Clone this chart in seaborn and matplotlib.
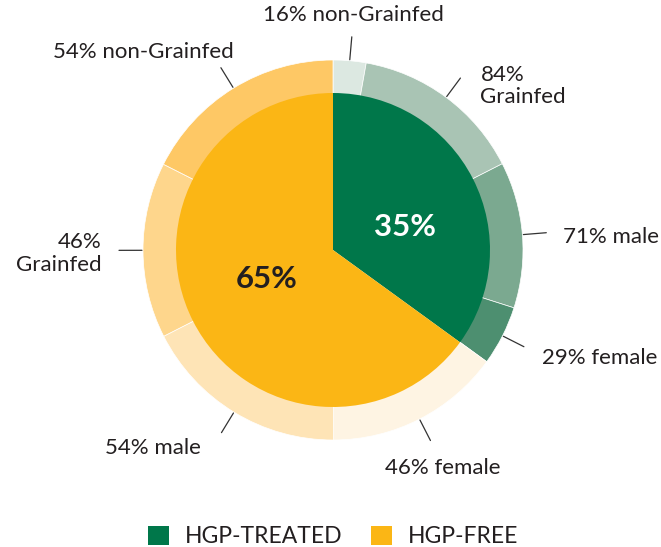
import numpy as np
import seaborn as sns
import matplotlib.pyplot as plt
from matplotlib.patches import Patch

sns.set_theme(style="white")
plt.rcParams['font.family'] = ['Lato', 'DejaVu Sans']

# data
groups = ["HGP-TREATED", "HGP-FREE"]
group_share = [35, 65]
treated_feed = [16, 84]   # non-Grainfed, Grainfed
treated_sex = [71, 29]    # male, female
free_sex = [46, 54]       # female, male
free_feed = [46, 54]      # Grainfed, non-Grainfed

labels = ["16% non-Grainfed", "84%\nGrainfed", "71% male", "29% female",
          "46% female", "54% male", "46%\nGrainfed", "54% non-Grainfed"]

inner_colors = ["#00774A", "#FBB615"]
outer_colors = ["#DCE8E1", "#A9C4B4", "#7BA990", "#4D8F70",
                "#FEF4E3", "#FEE4B6", "#FED68C", "#FEC865"]
text_color = "#231F20"

# each group's slice: half for feed split, half for sex split
outer = []
for share, parts in [(group_share[0], treated_feed), (group_share[0], treated_sex),
                     (group_share[1], free_sex), (group_share[1], free_feed)]:
    outer += [share / 2 * p / 100 for p in parts]

R_IN, R_OUT = 157, 190

fig = plt.figure(figsize=(6.61, 5.47), dpi=100)
ax = fig.add_axes([0, 0, 1, 1])

# ring first (a bit wider inward), inner pie on top hides the inner edge stroke
outer_w, _ = ax.pie(outer, radius=R_OUT, colors=outer_colors, startangle=90,
                    counterclock=False,
                    wedgeprops=dict(width=R_OUT - R_IN + 8, edgecolor="white", linewidth=0.5))
inner_w, _ = ax.pie(group_share, radius=R_IN, colors=inner_colors, startangle=90,
                    counterclock=False, wedgeprops=dict(linewidth=0))

ax.set_xlim(-333, 328)
ax.set_ylim(-297, 250)
ax.set_aspect('equal')
ax.axis('off')

# label placement: (dx, dy-down) from leader end, alignment
offsets = [(2, -22, 'center'), (20, 8, 'left'), (17, 4, 'left'), (18, 11, 'left'),
           (12, 27, 'center'), (-21, 15, 'right'), (-17, 3, 'right'), (13, -16, 'right')]

for w, lab, (dx, dy, ha) in zip(outer_w, labels, offsets):
    ang = np.deg2rad((w.theta1 + w.theta2) / 2)
    c, s = np.cos(ang), np.sin(ang)
    ax.plot([191 * c, 214 * c], [191 * s, 214 * s], color="#333333", lw=0.9)
    ax.text(214 * c + dx, 214 * s - dy, lab, ha=ha, va='center', multialignment=ha,
            fontsize=16, color=text_color, linespacing=1.15)

nudges = [(6, 11), (0, -5)]
for w, share, col, (dx, dy) in zip(inner_w, group_share, ["white", text_color], nudges):
    ang = np.deg2rad((w.theta1 + w.theta2) / 2)
    ax.text(74 * np.cos(ang) + dx, 74 * np.sin(ang) - dy, f"{share}%",
            ha='center', va='center', fontsize=22.5, fontweight='bold', color=col)

handles = [Patch(facecolor=c, edgecolor='none', label=g) for g, c in zip(groups, inner_colors)]
fig.legend(handles=handles, loc='lower center', bbox_to_anchor=(0.504, -0.038), ncol=2,
           frameon=False, fontsize=16.5, handlelength=0.92, handleheight=0.92,
           handletextpad=0.7, columnspacing=1.25, labelcolor=text_color)

plt.savefig('out.png', dpi=100)
